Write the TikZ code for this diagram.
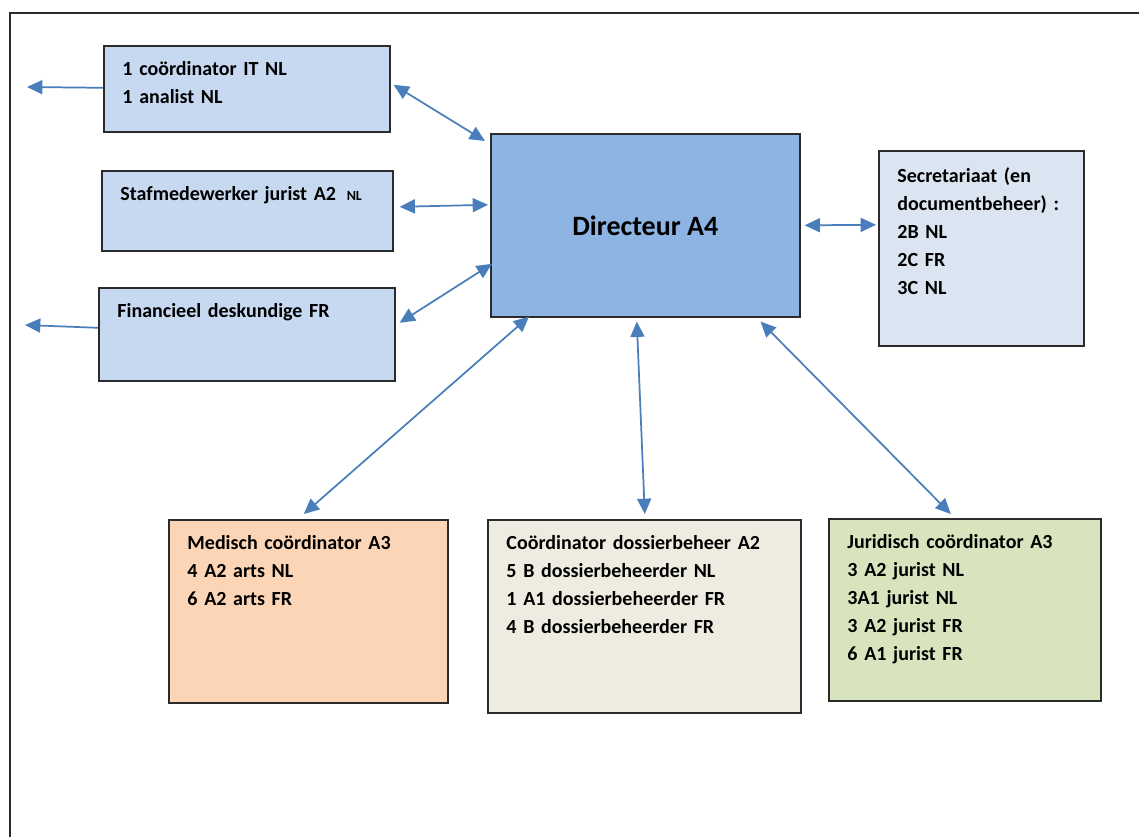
\documentclass[tikz,border=0pt]{standalone}
\usepackage{fontspec}
\setmainfont{Carlito}
\usetikzlibrary{arrows.meta}
\definecolor{edge}{HTML}{2B2B2B}
\definecolor{wire}{HTML}{4A7EBB}
\definecolor{staffblue}{HTML}{C6D9F1}
\definecolor{headblue}{HTML}{8EB4E3}
\definecolor{secblue}{HTML}{DBE5F1}
\definecolor{peach}{HTML}{FBD5B5}
\definecolor{cream}{HTML}{EEECE1}
\definecolor{sage}{HTML}{D7E4BD}
\tikzset{
  unit/.style={draw=edge, line width=1.2pt, inner xsep=14pt, inner ysep=0pt, align=left,
    text height=22.5pt, anchor=north west, font=\fontsize{15}{21}\selectfont\bfseries},
  head/.style={draw=edge, line width=1.2pt, fill=headblue, anchor=north west,
    minimum width=231.75pt, minimum height=137.25pt, font=\fontsize{21}{25}\selectfont\bfseries},
  link/.style={draw=wire, line width=1.3pt, >={Triangle[length=11.5pt,width=10.5pt]}}
}
\begin{document}
\begin{tikzpicture}[x=0.75pt, y=-0.75pt]
\useasboundingbox (0,0) rectangle (1139,836);
\draw[edge, line width=0.9pt] (10,850) -- (10,13) -- (1150,13);
\node[unit, fill=staffblue, text width=186.5pt, text depth=42pt] (l1) at (103,45) {1 coördinator IT NL\\1 analist NL};
\node[unit, fill=staffblue, text width=190.25pt, text depth=37.5pt] (l2) at (101,170) {Stafmedewerker jurist A2\hspace{8pt}{\fontsize{10.5}{12}\selectfont NL}};
\node[unit, fill=staffblue, text width=194pt, text depth=47.25pt] (l3) at (98,287) {Financieel deskundige FR};
\node[head] (d1) at (490,133) {Directeur A4};
\node[unit, fill=secblue, text width=125.75pt, text height=24pt, text depth=122.25pt] (s1) at (878,150) {Secretariaat (en\\documentbeheer) :\\2B NL\\2C FR\\3C NL};
\node[unit, fill=peach, text width=181.25pt, text depth=114.75pt] (b1) at (168,519) {Medisch coördinator A3\\4 A2 arts NL\\6 A2 arts FR};
\node[unit, fill=cream, text width=206.75pt, text depth=122.25pt] (b2) at (487,519) {Coördinator dossierbeheer A2\\5 B dossierbeheerder NL\\1 A1 dossierbeheerder FR\\4 B dossierbeheerder FR};
\node[unit, fill=sage, text width=176pt, text depth=114pt] (b3) at (828,518) {Juridisch coördinator A3\\3 A2 jurist NL\\3A1 jurist NL\\3 A2 jurist FR\\6 A1 jurist FR};
\coordinate (w1) at (27,87);
\coordinate (w3) at (25,325);
\draw[link,->] ([shift={(0,-1)}]l1.west) -- (w1);
\draw[link,->] ([shift={(0,-6.5)}]l3.west) -- (w3);
\draw[link,<->] ([shift={(3,-4)}]l1.east) -- ([shift={(-5,8)}]d1.north west);
\draw[link,<->] ([shift={(6,-4)}]l2.east) -- ([shift={(-2,-20.5)}]d1.west);
\draw[link,<->] ([shift={(4,-11.5)}]l3.east) -- ([shift={(2,38.5)}]d1.west);
\draw[link,<->] ([shift={(4,0)}]d1.east) -- ([shift={(-2,-23.5)}]s1.west);
\draw[link,<->] ([shift={(-4.5,-5)}]b1.north) -- ([shift={(39,-1)}]d1.south west);
\draw[link,<->] ([shift={(0.5,-5)}]b2.north) -- ([shift={(-8.5,4)}]d1.south);
\draw[link,<->] ([shift={(-14,-4)}]b3.north) -- ([shift={(-40,4)}]d1.south east);
\end{tikzpicture}
\end{document}
